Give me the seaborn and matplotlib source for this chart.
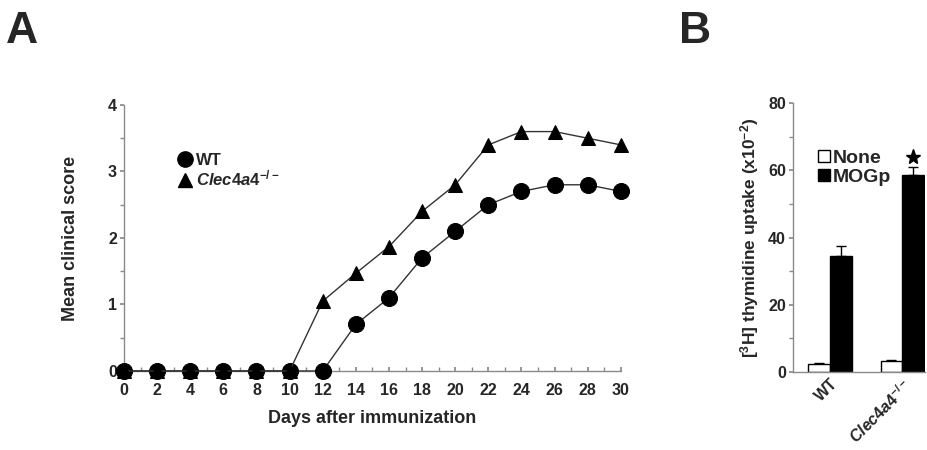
import numpy as np
import pandas as pd
import matplotlib
matplotlib.use("Agg")
import matplotlib.pyplot as plt
import seaborn as sns
from matplotlib.lines import Line2D
from matplotlib.patches import Patch

# ---- Data ----
days = [0, 2, 4, 6, 8, 10, 12, 14, 16, 18, 20, 22, 24, 26, 28, 30]
wt_score = [0, 0, 0, 0, 0, 0, 0, 0.7, 1.1, 1.7, 2.1, 2.5, 2.7, 2.8, 2.8, 2.7]
ko_score = [0, 0, 0, 0, 0, 0, 1.05, 1.47, 1.87, 2.4, 2.8, 3.4, 3.6, 3.6, 3.5, 3.4]

groups = ["WT", "Clec4a4-/-"]
stimuli = ["None", "MOGp"]
uptake_none = [2.5, 3.2]
uptake_mogp = [34.5, 58.5]
err_none = [0.2, 0.3]
err_mogp = [3.0, 2.5]

sns.set_theme(style="ticks")
plt.rcParams["font.family"] = ["Liberation Sans", "DejaVu Sans"]
plt.rcParams["font.weight"] = "bold"
plt.rcParams["mathtext.default"] = "regular"
plt.rcParams["mathtext.fontset"] = "custom"
plt.rcParams["mathtext.it"] = "Liberation Sans:italic"
plt.rcParams["mathtext.rm"] = "Liberation Sans:bold"

KO_LABEL = r"$\mathit{Clec4a4}^{-/-}$"

fig = plt.figure(figsize=(9.28, 4.5), dpi=100)
gray = "#8a8a8a"

# ---- Panel A ----
axA = fig.add_axes([0.1336, 0.1756, 0.669 - 0.1336, 0.7667 - 0.1756])
dfA = pd.DataFrame({
    "day": days * 2,
    "score": wt_score + ko_score,
    "genotype": ["WT"] * len(days) + ["KO"] * len(days),
})
sns.lineplot(data=dfA, x="day", y="score", hue="genotype", style="genotype",
             markers={"WT": "o", "KO": "^"}, dashes=False,
             palette={"WT": "black", "KO": "black"}, markersize=10,
             linewidth=1.0, markeredgecolor="black", ax=axA, legend=False,
             zorder=3)
for ln in axA.lines:
    ln.set_clip_on(False)
    ln.set_color("#333333")
    ln.set_markerfacecolor("black")
    ln.set_markeredgecolor("black")
    if ln.get_marker() == "o":
        ln.set_markersize(11.5)
    else:
        ln.set_markersize(10.5)
axA.set_xlim(0, 30)
axA.set_ylim(0, 4)
axA.set_xticks(days)
axA.set_xticks(range(1, 30, 2), minor=True)
axA.set_yticks([0, 1, 2, 3, 4])
axA.set_yticks([0.5, 1.5, 2.5, 3.5], minor=True)
axA.tick_params(axis="x", which="both", direction="in", length=3, color=gray, labelsize=11.5, pad=9)
axA.tick_params(axis="y", which="both", direction="out", length=3, color=gray, labelsize=11.5, pad=2)
axA.set_xlabel("Days after immunization", fontsize=13, fontweight="bold", labelpad=8)
axA.set_ylabel("Mean clinical score", fontsize=13, fontweight="bold", labelpad=21)
for s in ["top", "right"]:
    axA.spines[s].set_visible(False)
for s in ["left", "bottom"]:
    axA.spines[s].set_color(gray)
    axA.spines[s].set_linewidth(1.0)
for lab in axA.get_xticklabels() + axA.get_yticklabels():
    lab.set_fontweight("bold")
handlesA = [
    Line2D([], [], marker="o", color="black", linestyle="none", markersize=11),
    Line2D([], [], marker="^", color="black", linestyle="none", markersize=10),
]
axA.legend(handlesA, ["WT", KO_LABEL], loc="upper left", bbox_to_anchor=(0.085, 0.845),
           frameon=False, handletextpad=0.0, labelspacing=0.05,
           borderaxespad=0, handlelength=1.4, prop={"weight": "bold", "size": 12})

# ---- Panel B ----
axB = fig.add_axes([0.8545, 0.1733, 0.997 - 0.8545, 0.771 - 0.1733])
dfB = pd.DataFrame({
    "group": groups * 2,
    "stim": [stimuli[0]] * 2 + [stimuli[1]] * 2,
    "uptake": uptake_none + uptake_mogp,
    "err": err_none + err_mogp,
})
sns.barplot(data=dfB, x="group", y="uptake", hue="stim", order=groups,
            hue_order=stimuli, palette={"None": "white", "MOGp": "black"},
            edgecolor="black", linewidth=1.0, width=0.6, errorbar=None,
            legend=False, ax=axB, zorder=2)
bars = [p for p in axB.patches if p.get_height() > 0]
for p, (_, row) in zip(bars, dfB.iterrows()):
    xc = p.get_x() + p.get_width() / 2
    axB.errorbar([xc], [row["uptake"]], yerr=[[0], [row["err"]]], fmt="none",
                 ecolor="black", elinewidth=1.0, capsize=3.5, capthick=1.0, zorder=1)
# significance star above Clec4a4 MOGp bar
star_bar = bars[3]
axB.plot([star_bar.get_x() + star_bar.get_width() / 2],
         [uptake_mogp[1] + err_mogp[1] + 3.0], marker="*", color="black",
         markersize=11, linestyle="none", clip_on=False)
axB.set_xlim(-0.514, 1.32)
axB.set_ylim(0, 80)
axB.set_yticks([0, 20, 40, 60, 80])
axB.set_yticks([10, 30, 50, 70], minor=True)
axB.tick_params(axis="y", which="both", direction="out", length=3, color=gray, labelsize=11.5, pad=2)
axB.tick_params(axis="x", length=0, labelsize=11.5, pad=3)
axB.set_xticks([0, 1])
axB.set_xticklabels(["WT", KO_LABEL], rotation=45, ha="right", rotation_mode="anchor",
                    fontweight="bold")
for lab in axB.get_yticklabels():
    lab.set_fontweight("bold")
axB.set_xlabel("")
axB.set_ylabel(r"[$^{3}$H] thymidine uptake (x10$^{-2}$)", fontsize=12.5,
               fontweight="bold", labelpad=5)
for s in ["top", "right"]:
    axB.spines[s].set_visible(False)
for s in ["left", "bottom"]:
    axB.spines[s].set_color(gray)
    axB.spines[s].set_linewidth(1.0)
handlesB = [Patch(facecolor="white", edgecolor="black"),
            Patch(facecolor="black", edgecolor="black")]
axB.legend(handlesB, stimuli, loc="upper left", bbox_to_anchor=(0.13, 0.855),
           frameon=False, handletextpad=0.15, labelspacing=0.1, borderaxespad=0,
           handlelength=0.6, handleheight=0.6, prop={"weight": "bold", "size": 14})

# ---- Panel letters ----
letter_family = ["Liberation Sans Narrow", "DejaVu Sans Condensed", "Liberation Sans"]
fig.text(0.006, 0.905, "A", fontsize=32, fontweight="bold", family=letter_family)
fig.text(0.732, 0.905, "B", fontsize=32, fontweight="bold", family=letter_family)

fig.savefig("out.png", dpi=100)
